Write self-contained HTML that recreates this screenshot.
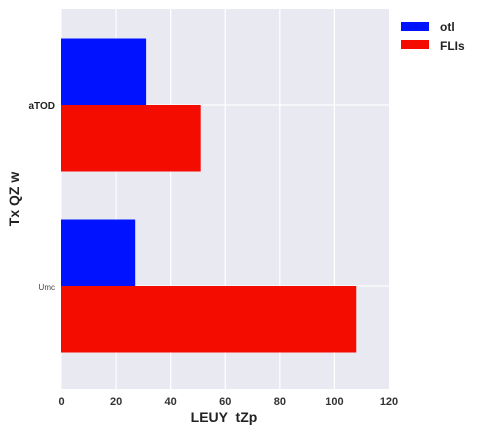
<!DOCTYPE html>
<html><head><meta charset="utf-8"><style>
body{margin:0;background:#fff;}
svg{display:block;font-family:"Liberation Sans",Arial,sans-serif;}
</style></head><body>
<svg width="496" height="434" viewBox="0 0 496 434">
<rect x="61.5" y="9" width="327.5" height="380" fill="#e9e9f2"/>
<g id="grid"></g>
<g id="bars"></g>
<g id="xticks"></g>
<g id="yticks"></g>
<text x="224" y="422" font-size="14" font-weight="bold" fill="#222" text-anchor="middle" style="white-space:pre">LEUY  tZp</text>
<text transform="translate(19,199) rotate(-90)" font-size="14" font-weight="bold" fill="#222" text-anchor="middle">Tx QZ w</text>
<g>
<rect x="401" y="22" width="28" height="9" fill="#0012ff"/>
<text x="440" y="31" font-size="12" font-weight="bold" fill="#222">otl</text>
<rect x="401" y="40" width="28" height="9" fill="#f50c00"/>
<text x="440" y="50" font-size="12" font-weight="bold" fill="#222">FLIs</text>
</g>
</svg>
<script>
const categories=["aTOD","Umc"];
const seriesOtl=[31,27];
const seriesFlis=[51,108];
const xTicks=[0,20,40,60,80,100,120];
const NS="http://www.w3.org/2000/svg";
const x0=61.5,x1=389,y0=9,y1=389;
function xs(v){return x0+(v/120)*(x1-x0);}
function yc(i){return 105+i*181;}
const barH=66.5;
function mk(tag,attrs,parent){const e=document.createElementNS(NS,tag);for(const k in attrs)e.setAttribute(k,attrs[k]);document.getElementById(parent).appendChild(e);return e;}
xTicks.forEach((t,i)=>{
  if(i>0&&i<xTicks.length-1){const l=mk('line',{x1:xs(t),x2:xs(t),y1:y0,y2:y1,stroke:'#fff','stroke-width':1.2},'grid');
  
  }
  const tx=mk('text',{x:xs(t),y:405,'font-size':11,'font-weight':'bold',fill:'#333','text-anchor':'middle'},'xticks');
  tx.textContent=t;
  
  
});
categories.forEach((c,i)=>{
  const g=mk('line',{x1:x0,x2:x1,y1:yc(i),y2:yc(i),stroke:'#fff','stroke-width':1.2},'grid');
  
  
  const b1=mk('rect',{x:xs(0)-0.5,y:yc(i)-barH,width:xs(seriesOtl[i])-xs(0)+0.5,height:barH,fill:'#0012ff'},'bars');
  
  
  const b2=mk('rect',{x:xs(0)-0.5,y:yc(i),width:xs(seriesFlis[i])-xs(0)+0.5,height:barH,fill:'#f50c00'},'bars');
  
  
  const t=mk('text',{x:55,y:yc(i)+4,'text-anchor':'end',fill:i==0?'#222':'#444','font-size':i==0?10:8,'font-weight':i==0?'bold':'normal'},'yticks');
  t.textContent=c;
  
  
});
</script>
</body></html>
